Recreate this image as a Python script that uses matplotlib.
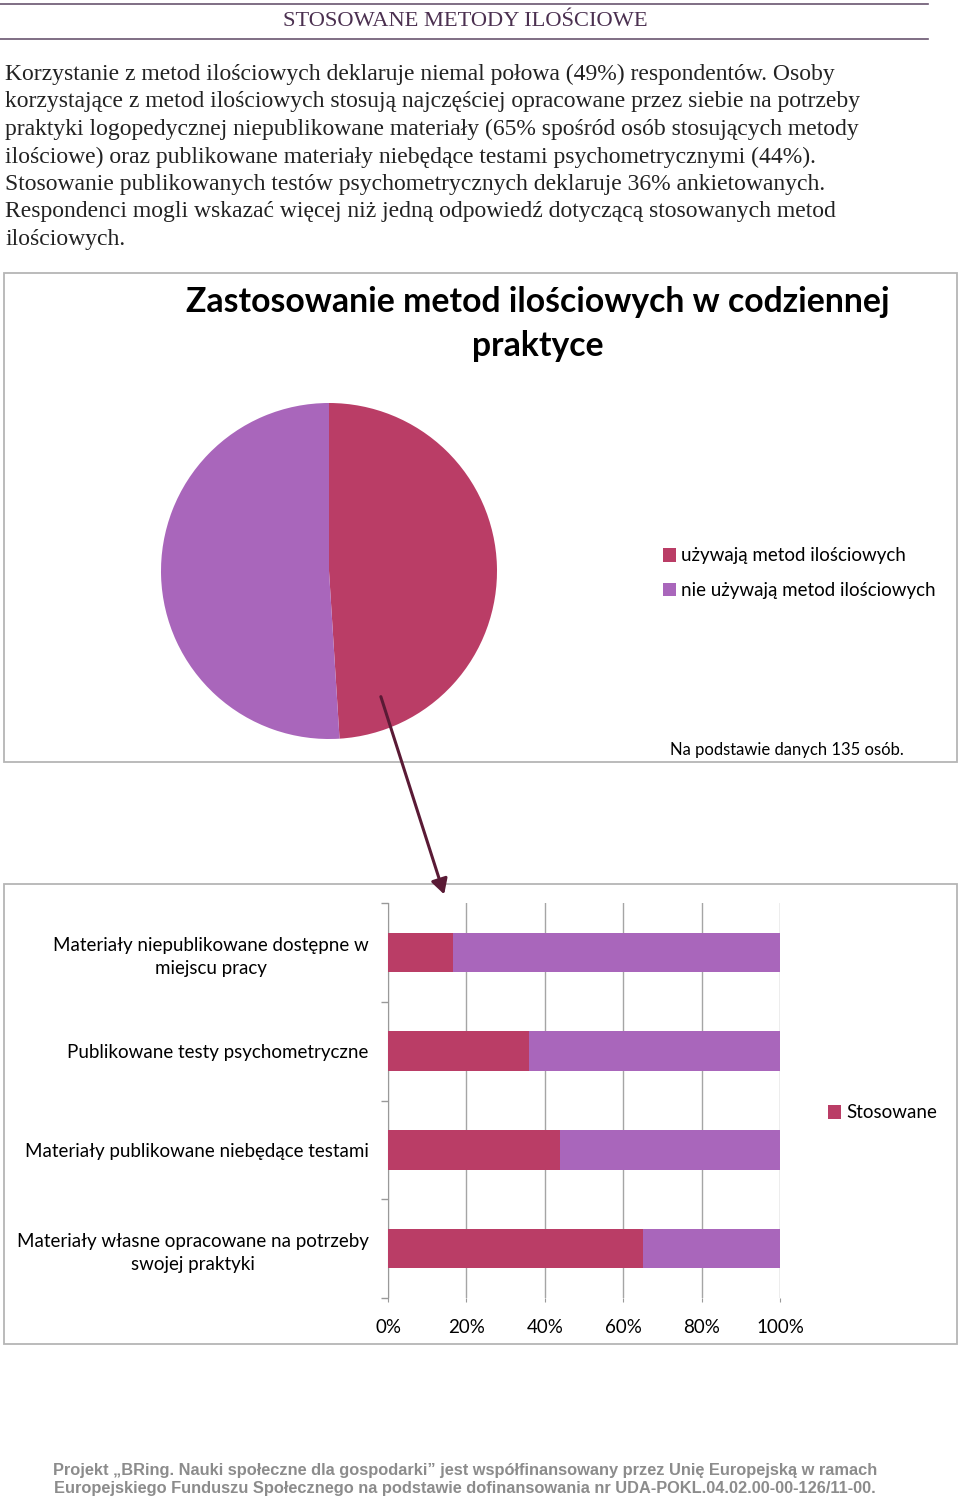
import matplotlib
matplotlib.use("Agg")
import matplotlib.pyplot as plt
from matplotlib.patches import Rectangle, FancyArrowPatch
from matplotlib.lines import Line2D

# dane
pie_labels = ["używają metod ilościowych", "nie używają metod ilościowych"]
pie_values = [49, 51]

categories = ["Materiały niepublikowane dostępne w\nmiejscu pracy",
              "Publikowane testy psychometryczne",
              "Materiały publikowane niebędące testami",
              "Materiały własne opracowane na potrzeby\nswojej praktyki"]
stosowane = [16.5, 36, 44, 65]
niestosowane = [100 - v for v in stosowane]
xticks = [0, 20, 40, 60, 80, 100]
xtick_labels = ["0%", "20%", "40%", "60%", "80%", "100%"]

header = "STOSOWANE METODY ILOŚCIOWE"
paragraph = [
    "Korzystanie z metod ilościowych deklaruje niemal połowa (49%) respondentów. Osoby",
    "korzystające z metod ilościowych stosują najczęściej opracowane przez siebie na potrzeby",
    "praktyki logopedycznej niepublikowane materiały (65% spośród osób stosujących metody",
    "ilościowe) oraz publikowane materiały niebędące testami psychometrycznymi (44%).",
    "Stosowanie publikowanych testów psychometrycznych deklaruje 36% ankietowanych.",
    "Respondenci mogli wskazać więcej niż jedną odpowiedź dotyczącą stosowanych metod",
    "ilościowych.",
]
footer = ["Projekt \u201eBRing. Nauki społeczne dla gospodarki\u201d jest współfinansowany przez Unię Europejską w ramach",
          "Europejskiego Funduszu Społecznego na podstawie dofinansowania nr UDA-POKL.04.02.00-00-126/11-00."]

RED = "#BA3D66"
PURPLE = "#A966BB"
W, H = 960, 1498


def fx(px):
    return px / W


def fy(py):
    return 1 - py / H


fig = plt.figure(figsize=(9.6, 14.98), dpi=100)
fig.patch.set_facecolor("white")

# naglowek
fig.add_artist(Line2D([0, fx(928)], [fy(4), fy(4)], color="#6a5570", lw=1.2))
fig.add_artist(Line2D([0, fx(928)], [fy(39), fy(39)], color="#6a5570", lw=1.2))
fig.text(fx(465), fy(22), header, ha="center", va="center", fontsize=16.2,
         family="Liberation Serif", color="#4b3050")

for i, line in enumerate(paragraph):
    fig.text(fx(5), fy(80 + i * 27.5), line, ha="left", va="baseline",
             fontsize=17, family="Liberation Serif", color="#222222")

# ramki wykresow
fig.add_artist(Rectangle((fx(4), fy(762)), fx(957) - fx(4), fy(273) - fy(762),
                         transform=fig.transFigure, fill=False, ec="#b5b5b5", lw=1.3))
fig.add_artist(Rectangle((fx(4), fy(1344)), fx(957) - fx(4), fy(884) - fy(1344),
                         transform=fig.transFigure, fill=False, ec="#b5b5b5", lw=1.3))

# wykres kolowy
fig.text(fx(538), fy(324), "Zastosowanie metod ilościowych w codziennej\npraktyce",
         ha="center", va="center", fontsize=24.3, family="Lato", weight="bold",
         linespacing=1.5)

r = 168
ax1 = fig.add_axes([fx(329 - r), fy(571 + r), 2 * r / W, 2 * r / H])
wedges, _ = ax1.pie(pie_values, colors=[RED, PURPLE], startangle=90,
                    counterclock=False, radius=1.0)
ax1.set_xlim(-1, 1)
ax1.set_ylim(-1, 1)
ax1.set_aspect("equal")
ax1.axis("off")

fig.legend(wedges, pie_labels, loc="upper left", bbox_to_anchor=(fx(655), fy(540)),
           frameon=False, prop={"family": "Lato", "size": 13.5},
           handlelength=0.7, handleheight=0.7, handletextpad=0.3,
           labelspacing=0.95, borderaxespad=0)
fig.text(fx(670), fy(750), "Na podstawie danych 135 osób.", ha="left", va="center",
         fontsize=12, family="Lato")

# strzalka
fig.add_artist(FancyArrowPatch(
    (fx(380), fy(694)), (fx(445), fy(897)), transform=fig.transFigure,
    arrowstyle="-|>,head_length=9,head_width=5", color="#5a1a35", lw=2.2))

# wykres slupkowy
ax2 = fig.add_axes([fx(388), fy(1298), 392 / W, 395 / H])
ypos = list(range(len(categories)))
b1 = ax2.barh(ypos, stosowane, height=0.4, color=RED, label="Stosowane", zorder=3)
ax2.barh(ypos, niestosowane, left=stosowane, height=0.4, color=PURPLE, zorder=3)
ax2.set_xlim(0, 100)
ax2.set_ylim(len(categories) - 0.5, -0.5)
ax2.set_xticks(xticks)
ax2.set_xticklabels(xtick_labels, family="Lato", fontsize=13.5)
ax2.set_yticks(ypos)
ax2.set_yticklabels(categories, family="Lato", fontsize=13.5)
for lbl in ax2.get_yticklabels():
    lbl.set_multialignment("center")
    lbl.set_linespacing(1.45)
ax2.set_yticks([y - 0.5 for y in range(len(categories) + 1)], minor=True)
ax2.tick_params(axis="y", which="major", length=0, pad=14)
ax2.tick_params(axis="y", which="minor", length=5, color="#999999", width=1)
ax2.tick_params(axis="x", length=3, color="#999999", pad=12)
ax2.grid(axis="x", color="#a5a5a5", lw=1, zorder=0)
for s in ["top", "right", "bottom"]:
    ax2.spines[s].set_visible(False)
ax2.spines["left"].set_color("#999999")

fig.legend([b1], ["Stosowane"], loc="center left", bbox_to_anchor=(fx(820), fy(1113)),
           frameon=False, prop={"family": "Lato", "size": 13.5},
           handlelength=0.7, handleheight=0.7, handletextpad=0.3, borderaxespad=0)

# stopka
for i, line in enumerate(footer):
    fig.text(fx(465), fy(1470 + i * 18), line, ha="center", va="center",
             fontsize=11.8, family=["Liberation Sans Narrow", "Liberation Sans"],
             weight="bold", color="#8c8c8c")

fig.savefig("out.png", dpi=100)
